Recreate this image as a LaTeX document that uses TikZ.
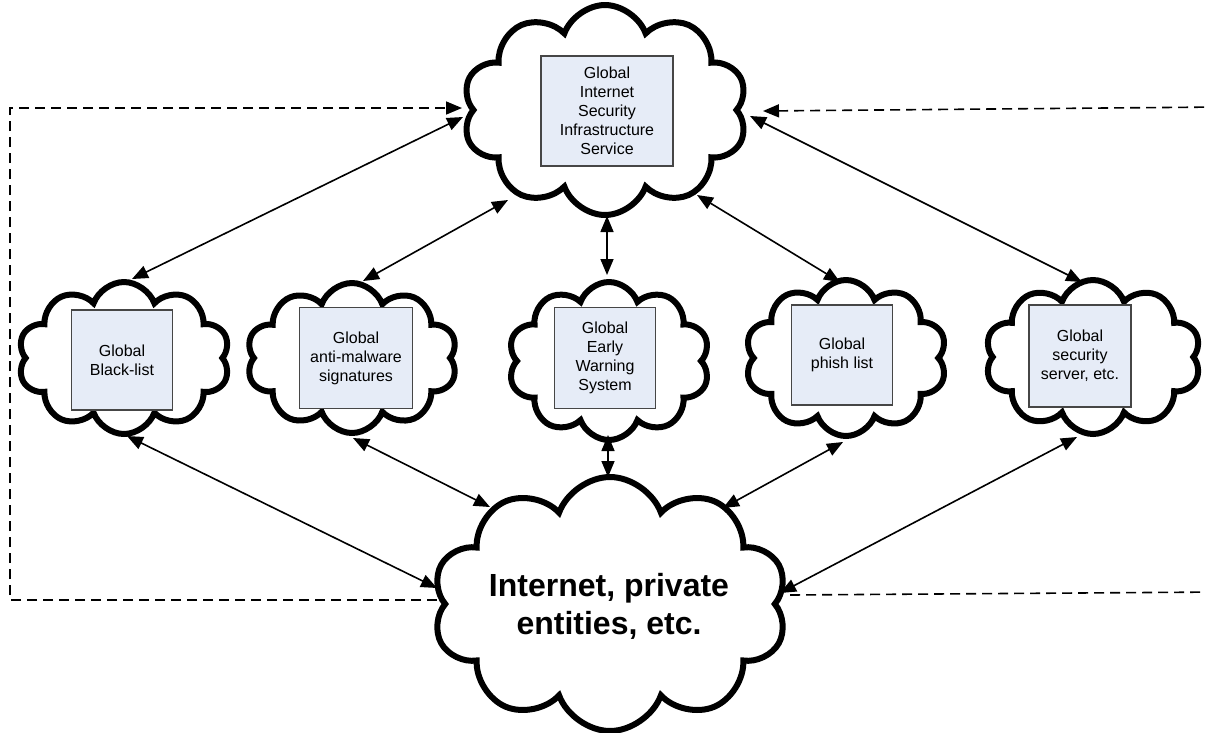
\documentclass[tikz,border=0pt]{standalone}
\usepackage{fontspec}
\setmainfont{Liberation Sans}
\usetikzlibrary{shapes.symbols,arrows.meta}
\definecolor{boxfill}{RGB}{230,236,247}
\definecolor{boxline}{RGB}{70,70,70}
\begin{document}
\begin{tikzpicture}[x=1pt,y=-1pt,
  cloudnode/.style={cloud, cloud puffs=10, cloud puff arc=140, cloud ignores aspect, draw, line width=6pt, inner sep=0pt, outer sep=0pt},
  infobox/.style={draw=boxline, line width=1.2pt, fill=boxfill, align=center, font=\fontsize{16}{19}\selectfont, inner sep=0pt},
  tip/.tip={Triangle[length=16pt,width=13pt]},
  link/.style={line width=1.6pt, tip-tip},
  dlink/.style={line width=1.6pt, dash pattern=on 10pt off 6pt},
  ]
\clip (0,0) rectangle (1206,732);
\fill[white] (0,0) rectangle (1206,732);

% top cloud
\node[cloudnode, minimum width=285pt, minimum height=210pt] (top) at (605,110) {};
\node[infobox, minimum width=132pt, minimum height=110pt] (topbox) at (607,111) {Global\\Internet\\Security\\Infrastructure\\Service};

% middle clouds
\node[cloudnode, minimum width=212pt, minimum height=152pt] (black) at (124,358) {};
\node[infobox, minimum width=101pt, minimum height=100pt] (blackbox) at (122,360) {Global\\Black-list};

\node[cloudnode, minimum width=211pt, minimum height=150pt] (anti) at (352,358) {};
\node[infobox, minimum width=113pt, minimum height=101pt] (antibox) at (356,358) {Global\\anti-malware\\signatures};

\node[cloudnode, minimum width=202pt, minimum height=158pt] (ews) at (609,361) {};
\node[infobox, minimum width=101pt, minimum height=101pt] (ewsbox) at (605,358) {Global\\Early\\Warning\\System};

\node[cloudnode, minimum width=202pt, minimum height=156pt] (phish) at (846,358) {};
\node[infobox, minimum width=101pt, minimum height=100pt] (phishbox) at (842,355) {Global\\phish list};

\node[cloudnode, minimum width=216pt, minimum height=154pt] (sec) at (1093,357) {};
\node[infobox, minimum width=102pt, minimum height=102pt] (secbox) at (1080,356) {Global\\security\\server, etc.};

% bottom cloud
\node[cloudnode, minimum width=355pt, minimum height=254pt] (net) at (610,604) {};
\node[font=\fontsize{32}{38}\selectfont\bfseries, align=center] (nettext) at (609,606) {Internet, private\\entities, etc.};

% solid connectors (end points given relative to the clouds they touch)
\draw[link] ([shift={(-142,7)}]top.center) -- ([shift={(8,-79)}]black.center);
\draw[link] ([shift={(-97,90)}]top.center) -- ([shift={(11,-77)}]anti.center);
\draw[link] ([shift={(2,106)}]top.center) -- ([shift={(-2,-86)}]ews.center);
\draw[link] ([shift={(92,85)}]top.center) -- ([shift={(-6,-76)}]phish.center);
\draw[link] ([shift={(145,6)}]top.center) -- ([shift={(-11,-75)}]sec.center);

\draw[link] ([shift={(3,78)}]black.center) -- ([shift={(-173,-16)}]net.center);
\draw[link] ([shift={(1,80)}]anti.center) -- ([shift={(-120,-97)}]net.center);
\draw[link] ([shift={(-1,74)}]ews.center) -- ([shift={(-2,-127)}]net.center);
\draw[link] ([shift={(-3,84)}]phish.center) -- ([shift={(113,-96)}]net.center);
\draw[link] ([shift={(-16,80)}]sec.center) -- ([shift={(170,-11)}]net.center);

% dashed feedback paths
\coordinate (lc) at (10,350);
\coordinate (rb) at (1220,592);
\coordinate (rt) at (1220,107);
\draw[dlink, -tip] ([shift={(-173,-4)}]net.center) -| (lc) |- ([shift={(-143,-2)}]top.center);
\draw[dlink] ([shift={(180,-9)}]net.center) -- (rb);
\draw[dlink, -tip] (rt) -- ([shift={(158,1)}]top.center);
\end{tikzpicture}
\end{document}
